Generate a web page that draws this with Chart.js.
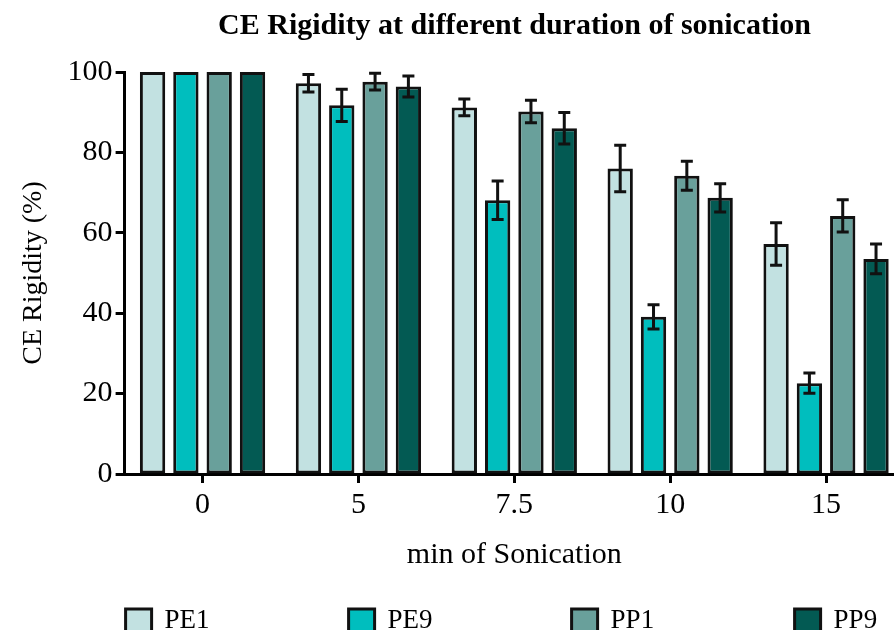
<!DOCTYPE html>
<html>
<head>
<meta charset="utf-8">
<script src="https://cdn.jsdelivr.net/npm/chart.js@4.4.1/dist/chart.umd.min.js"></script>
<style>
  html, body { margin: 0; padding: 0; background: #fff; overflow: hidden; }
  #wrap { position: relative; width: 894px; height: 630px; overflow: hidden; }
  #chart { position: absolute; left: 0; top: 0; }
</style>
</head>
<body>
<div id="wrap"><canvas id="chart" width="1012" height="660"></canvas></div>
<script>
const categories = ["0", "5", "7.5", "10", "15"];
const seriesNames = ["PE1", "PE9", "PP1", "PP9"];
const seriesColors = ["#c2e1e1", "#00bebe", "#69a09b", "#035a53"];

const pe1 = [100, 97.2, 91.2, 76.0, 57.2];
const pe9 = [100, 91.7, 68.1, 39.1, 22.6];
const pp1 = [100, 97.6, 90.2, 74.2, 64.2];
const pp9 = [100, 96.4, 86.0, 68.7, 53.5];

const pe1Err = [0, 2.2, 2.1, 5.8, 5.3];
const pe9Err = [0, 4.0, 4.8, 3.0, 2.5];
const pp1Err = [0, 2.1, 2.8, 3.6, 4.0];
const pp9Err = [0, 2.6, 3.9, 3.5, 3.7];

const yTicks = [0, 20, 40, 60, 80, 100];

const serif = "'Liberation Serif', 'Times New Roman', serif";
Chart.defaults.font.family = serif;
Chart.defaults.color = "#000";

const values = [pe1, pe9, pp1, pp9];
const errors = [pe1Err, pe9Err, pp1Err, pp9Err];

// error bars drawn on top of bars, positions from the y scale
const errorBars = {
  id: "errorBars",
  afterDatasetsDraw(chart) {
    const ctx = chart.ctx;
    const y = chart.scales.y;
    ctx.save();
    ctx.strokeStyle = "#111";
    ctx.lineWidth = 3;
    chart.data.datasets.forEach((ds, i) => {
      chart.getDatasetMeta(i).data.forEach((bar, j) => {
        const err = ds.errors[j];
        if (!err) return;
        const top = y.getPixelForValue(ds.data[j] + err);
        const bot = y.getPixelForValue(ds.data[j] - err);
        const cap = 6;
        ctx.beginPath();
        ctx.moveTo(bar.x, top);
        ctx.lineTo(bar.x, bot);
        ctx.moveTo(bar.x - cap, top);
        ctx.lineTo(bar.x + cap, top);
        ctx.moveTo(bar.x - cap, bot);
        ctx.lineTo(bar.x + cap, bot);
        ctx.stroke();
      });
    });
    ctx.restore();
  }
};

// wide-spaced legend row under the axis title
const spacedLegend = {
  id: "spacedLegend",
  afterDraw(chart) {
    const ctx = chart.ctx;
    const startX = chart.chartArea.left + 1;
    const gap = 223;
    const cy = 621;
    ctx.save();
    ctx.font = "27px " + serif;
    ctx.textBaseline = "middle";
    ctx.textAlign = "left";
    chart.data.datasets.forEach((ds, i) => {
      const x = startX + i * gap;
      ctx.fillStyle = ds.backgroundColor;
      ctx.fillRect(x, cy - 12, 26, 24);
      ctx.lineWidth = 3;
      ctx.strokeStyle = "#111";
      ctx.strokeRect(x, cy - 12, 26, 24);
      ctx.fillStyle = "#000";
      ctx.fillText(ds.label, x + 39, cy);
    });
    ctx.restore();
  }
};

new Chart(document.getElementById("chart"), {
  type: "bar",
  data: {
    labels: categories,
    datasets: seriesNames.map((name, i) => ({
      label: name,
      data: values[i],
      errors: errors[i],
      yAxisID: "y",
      backgroundColor: seriesColors[i],
      borderColor: "#111",
      borderWidth: 3,
      borderSkipped: false,
      categoryPercentage: 0.855,
      barPercentage: 0.76
    }))
  },
  options: {
    responsive: false,
    animation: false,
    layout: { padding: { left: 17, right: 0, top: 0, bottom: 83 } },
    plugins: {
      legend: { display: false },
      tooltip: { enabled: false },
      title: {
        display: true,
        text: "CE Rigidity at different duration of sonication",
        color: "#000",
        font: { family: serif, size: 30, weight: "bold" },
        padding: { top: 8, bottom: 28 }
      }
    },
    scales: {
      x: {
        grid: {
          display: true,
          drawOnChartArea: false,
          offset: false,
          tickLength: 9,
          tickWidth: 3,
          tickColor: "#000"
        },
        border: { display: true, color: "#000", width: 3 },
        ticks: { color: "#000", font: { size: 30 }, padding: 4, maxRotation: 0 },
        title: {
          display: true,
          text: "min of Sonication",
          color: "#000",
          font: { size: 30 },
          padding: { top: 10, bottom: 4 }
        }
      },
      y: {
        min: 0,
        max: 100,
        afterBuildTicks(scale) {
          scale.ticks = yTicks.map(v => ({ value: v }));
        },
        grid: {
          display: true,
          drawOnChartArea: false,
          tickLength: 9,
          tickWidth: 3,
          tickColor: "#000"
        },
        border: { display: true, color: "#000", width: 3 },
        ticks: { color: "#000", font: { size: 30 }, padding: 3 },
        title: {
          display: true,
          text: "CE Rigidity (%)",
          color: "#000",
          font: { size: 28 },
          padding: { top: 0, bottom: 14 }
        }
      },
      // empty right-hand space so the title centres like the original
      yRight: {
        position: "right",
        min: 0,
        max: 100,
        grid: { display: false },
        border: { display: false },
        ticks: { display: false },
        afterFit(scale) { scale.width = 108; }
      }
    }
  },
  plugins: [errorBars, spacedLegend]
});
</script>
</body>
</html>
